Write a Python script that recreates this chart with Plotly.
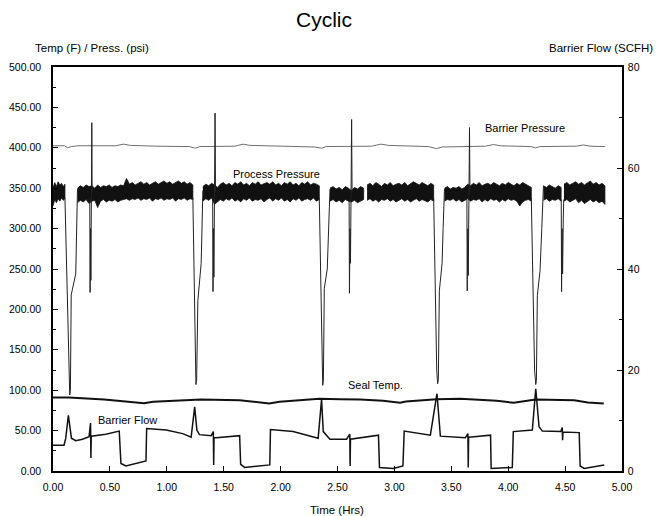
import numpy as np
import plotly.graph_objects as go

# ---------------- data ----------------
# Barrier Pressure (psi, left axis)
bp_t = [0.00, 0.10, 0.13, 0.16, 0.22, 0.55, 0.62, 0.68, 0.90, 1.20, 1.25, 1.29, 1.60, 1.67, 1.73,
        2.00, 2.30, 2.36, 2.40, 2.80, 2.88, 2.95, 3.30, 3.37, 3.42, 3.80, 3.87, 3.93, 4.20, 4.24,
        4.28, 4.60, 4.66, 4.72, 4.85]
bp_v = [402.5, 402.5, 400.0, 401.5, 402.5, 402.5, 404.5, 403.0, 402.0, 401.5, 399.5, 401.5, 402.0,
        404.5, 403.0, 402.0, 401.0, 399.5, 401.5, 402.0, 404.5, 403.0, 401.5, 399.0, 401.0, 402.0,
        404.0, 402.5, 401.5, 400.0, 401.5, 402.0, 403.5, 402.0, 401.5]

# Process Pressure: noisy plateau segments given as (start, end) with upper / lower envelopes
pp_A_span = (0.000, 0.105)
pp_A_up = [350, 357, 352, 358, 354, 356, 352, 355]
pp_A_lo = [328, 336, 332, 337, 334, 338, 335, 337]

pp_B_span = (0.215, 1.229)
pp_B_up = [350, 353, 351, 354, 352, 353, 350, 354, 351, 353, 352, 354, 351, 353, 352, 354, 353, 362,
           355, 357, 354, 356, 358, 355, 357, 354, 356, 358, 355, 357, 359, 356, 358, 355, 357, 359,
           356, 358, 355, 357, 354]
pp_B_lo = [332, 335, 333, 336, 331, 334, 335, 326, 334, 336, 333, 335, 334, 336, 333, 335, 336, 337,
           335, 337, 336, 338, 335, 337, 336, 338, 334, 337, 336, 338, 335, 337, 336, 338, 334, 337,
           336, 338, 335, 337, 336]

pp_C_span = (1.317, 2.340)
pp_C_up = [352, 355, 353, 356, 354, 351, 355, 357, 354, 356, 353, 357, 355, 358, 354, 356, 353, 357,
           355, 358, 354, 356, 357, 355, 358, 354, 356, 353, 357, 355, 358, 354, 356, 353, 357, 355,
           358, 354, 356, 355, 353]
pp_C_lo = [334, 337, 335, 338, 330, 333, 336, 334, 337, 335, 338, 334, 336, 333, 337, 335, 338, 334,
           336, 335, 337, 333, 336, 338, 334, 337, 335, 338, 334, 336, 333, 337, 335, 338, 334, 336,
           337, 335, 338, 334, 336]

pp_D1_span = (2.434, 2.730)
pp_D1_up = [350, 352, 349, 351, 348, 352, 350, 347, 351, 349, 352, 350]
pp_D1_lo = [334, 336, 333, 335, 332, 336, 334, 333, 335, 332, 334, 336]

pp_D2_span = (2.760, 3.345)
pp_D2_up = [354, 356, 353, 357, 355, 352, 356, 354, 357, 353, 355, 356, 354, 357, 353, 355, 358, 356,
            354, 357, 355, 353, 356, 354]
pp_D2_lo = [335, 337, 334, 336, 333, 336, 335, 337, 334, 336, 333, 335, 337, 334, 336, 333, 335, 337,
            334, 336, 335, 333, 336, 334]

pp_E_span = (3.440, 4.203)
pp_E_up = [350, 352, 349, 351, 350, 352, 349, 351, 355, 353, 356, 354, 357, 353, 355, 356, 354, 357,
           355, 353, 356, 354, 357, 355, 353, 356, 354, 357, 355, 353, 351]
pp_E_lo = [334, 336, 335, 337, 334, 336, 333, 335, 337, 334, 336, 335, 337, 333, 336, 334, 337, 335,
           336, 333, 336, 334, 337, 335, 336, 334, 328, 333, 335, 336, 334]

pp_F1_span = (4.310, 4.465)
pp_F1_up = [353, 351, 354, 352, 350, 353, 351]
pp_F1_lo = [335, 337, 334, 336, 335, 337, 334]

pp_F2_span = (4.490, 4.850)
pp_F2_up = [355, 357, 354, 356, 358, 355, 357, 354, 356, 359, 355, 357, 354, 356, 353]
pp_F2_lo = [334, 336, 333, 335, 337, 332, 335, 331, 334, 336, 333, 335, 332, 334, 330]

# Process Pressure transients (cycle dips)
dip1_t = [0.105, 0.118, 0.135, 0.147, 0.153, 0.160, 0.200, 0.207, 0.215]
dip1_v = [338, 260, 130, 94, 100, 218, 244, 300, 349]
dip2_t = [1.229, 1.240, 1.250, 1.256, 1.262, 1.273, 1.302, 1.308, 1.317]
dip2_v = [338, 220, 115, 107, 112, 211, 257, 300, 347]
dip3_t = [2.340, 2.352, 2.365, 2.370, 2.376, 2.384, 2.410, 2.420, 2.434]
dip3_v = [338, 230, 120, 106, 112, 226, 250, 300, 349]
dip4_t = [3.345, 3.357, 3.372, 3.380, 3.386, 3.395, 3.419, 3.428, 3.440]
dip4_v = [338, 230, 125, 108, 113, 223, 257, 300, 349]
dip5_t = [4.203, 4.215, 4.232, 4.242, 4.248, 4.256, 4.280, 4.295, 4.310]
dip5_v = [338, 240, 125, 107, 112, 217, 248, 300, 353]

# Process Pressure spikes
sp1_t = [0.323, 0.326, 0.330, 0.333, 0.338, 0.341, 0.344]
sp1_v = [338, 221, 300, 236, 340, 431, 345]
sp2_t = [1.403, 1.406, 1.410, 1.414, 1.420, 1.424, 1.428]
sp2_v = [338, 222, 300, 240, 340, 443, 345]
sp3_t = [2.602, 2.605, 2.610, 2.614, 2.619, 2.624, 2.628]
sp3_v = [336, 220, 300, 257, 340, 435, 345]
sp4_t = [3.637, 3.640, 3.645, 3.649, 3.655, 3.660, 3.664]
sp4_v = [338, 223, 300, 242, 340, 425, 345]
sp5_t = [4.466, 4.469, 4.474, 4.478, 4.484, 4.488]
sp5_v = [336, 222, 300, 244, 312, 336]

# Seal Temp. (F, left axis)
st_t = [0.00, 0.14, 0.45, 0.70, 0.80, 0.88, 1.23, 1.30, 1.64, 1.90, 1.99, 2.34, 2.52, 2.70, 2.90,
        3.05, 3.10, 3.37, 3.58, 3.90, 4.05, 4.17, 4.24, 4.58, 4.70, 4.84]
st_v = [91.0, 91.0, 88.5, 85.0, 84.0, 85.6, 88.5, 88.5, 87.7, 83.5, 85.6, 89.3, 88.9, 88.5, 86.8,
        84.4, 86.0, 88.9, 89.3, 86.8, 84.4, 86.8, 88.5, 87.7, 84.8, 83.5]

# Barrier Flow (SCFH, right axis)
bf_t = [0.000, 0.097, 0.112, 0.135, 0.162, 0.200, 0.259, 0.317, 0.330, 0.333, 0.336, 0.464, 0.582,
        0.597, 0.641, 0.817, 0.823, 0.994, 1.140, 1.214, 1.245, 1.264, 1.287, 1.390, 1.409, 1.412,
        1.415, 1.435, 1.640, 1.649, 1.684, 1.905, 1.911, 2.110, 2.330, 2.360, 2.375, 2.434, 2.580,
        2.608, 2.611, 2.614, 2.860, 2.869, 2.990, 3.075, 3.086, 3.316, 3.374, 3.404, 3.624, 3.646,
        3.649, 3.652, 3.700, 3.845, 3.850, 4.036, 4.045, 4.212, 4.242, 4.271, 4.300, 4.462, 4.475,
        4.478, 4.481, 4.624, 4.632, 4.668, 4.844]
bf_v = [5.1, 5.1, 6.5, 11.0, 6.5, 6.0, 6.3, 6.8, 9.5, 2.6, 6.9, 7.3, 7.9,
        1.5, 1.0, 2.0, 8.4, 8.1, 7.4, 6.7, 12.7, 8.1, 7.2, 7.0, 7.8, 1.2,
        6.6, 6.6, 7.0, 1.3, 0.7, 1.2, 8.2, 7.8, 6.5, 14.2, 7.8, 6.3, 6.3,
        7.3, 1.0, 6.3, 7.1, 0.7, 0.5, 1.0, 7.9, 7.1, 15.3, 6.9, 6.6, 7.4,
        0.7, 6.7, 6.8, 7.1, 0.5, 0.7, 7.8, 8.1, 16.3, 8.75, 7.9, 7.8, 8.6,
        6.1, 7.7, 7.6, 1.0, 0.5, 1.2]

# Series labels (text, time, value on left axis)
label_text = ["Barrier Pressure", "Process Pressure", "Seal Temp.", "Barrier Flow"]
label_t = [4.15, 1.968, 2.83, 0.658]
label_v = [424, 368, 106, 63]

# ---------------- figure ----------------
fig = go.Figure()

# Barrier pressure
fig.add_trace(go.Scatter(x=bp_t, y=bp_v, mode="lines", line=dict(color="#6e6e6e", width=1),
                         name="Barrier Pressure", hoverinfo="skip"))

# Process pressure noisy plateaus
segments = [
    (pp_A_span, pp_A_up, pp_A_lo), (pp_B_span, pp_B_up, pp_B_lo), (pp_C_span, pp_C_up, pp_C_lo),
    (pp_D1_span, pp_D1_up, pp_D1_lo), (pp_D2_span, pp_D2_up, pp_D2_lo), (pp_E_span, pp_E_up, pp_E_lo),
    (pp_F1_span, pp_F1_up, pp_F1_lo), (pp_F2_span, pp_F2_up, pp_F2_lo),
]
for span, up, lo in segments:
    t = np.linspace(span[0], span[1], len(up))
    xs = list(t) + list(t[::-1])
    ys = list(up) + list(lo[::-1])
    fig.add_trace(go.Scatter(x=xs, y=ys, mode="lines", fill="toself", fillcolor="#111111",
                             line=dict(color="#111111", width=0.8), hoverinfo="skip",
                             showlegend=False))

# Process pressure transients
tx, vy = [], []
for t_, v_ in [(dip1_t, dip1_v), (dip2_t, dip2_v), (dip3_t, dip3_v), (dip4_t, dip4_v),
               (dip5_t, dip5_v), (sp1_t, sp1_v), (sp2_t, sp2_v), (sp3_t, sp3_v),
               (sp4_t, sp4_v), (sp5_t, sp5_v)]:
    tx += list(t_) + [None]
    vy += list(v_) + [None]
fig.add_trace(go.Scatter(x=tx, y=vy, mode="lines", line=dict(color="#222222", width=1),
                         connectgaps=False, hoverinfo="skip", showlegend=False))

# Seal temp
fig.add_trace(go.Scatter(x=st_t, y=st_v, mode="lines", line=dict(color="#111111", width=2),
                         hoverinfo="skip", showlegend=False))

# Barrier flow on right axis
fig.add_trace(go.Scatter(x=bf_t, y=bf_v, mode="lines", yaxis="y2",
                         line=dict(color="#111111", width=1.5), hoverinfo="skip",
                         showlegend=False))

font_family = "Liberation Sans, Arial, sans-serif"
annotations = []
for txt, t_, v_ in zip(label_text, label_t, label_v):
    annotations.append(dict(x=t_, y=v_, xref="x", yref="y", text=txt, showarrow=False,
                            font=dict(size=11, color="black", family=font_family)))

annotations += [
    dict(text="Cyclic", x=0.476, y=1.118, xref="paper", yref="paper", showarrow=False,
         xanchor="center", yanchor="middle", font=dict(size=21, color="black", family=font_family)),
    dict(text="Temp (F) / Press. (psi)", x=-0.036, y=1.047, xref="paper", yref="paper",
         showarrow=False, xanchor="left", yanchor="middle",
         font=dict(size=11.5, color="black", family=font_family)),
    dict(text="Barrier Flow (SCFH)", x=1.0585, y=1.047, xref="paper", yref="paper",
         showarrow=False, xanchor="right", yanchor="middle",
         font=dict(size=11.5, color="black", family=font_family)),
    dict(text="Time (Hrs)", x=0.499, y=-0.096, xref="paper", yref="paper", showarrow=False,
         xanchor="center", yanchor="middle", font=dict(size=11.5, color="black", family=font_family)),
]

# The page body has an 8px margin, so the figure is sized 656x508 to fill the 664x516 window.
tickfont = dict(size=10.5, color="black", family=font_family)
fig.update_layout(
    width=656, height=508,
    margin=dict(l=45, r=42, t=59, b=45, autoexpand=False),
    paper_bgcolor="white", plot_bgcolor="white",
    showlegend=False,
    annotations=annotations,
    xaxis=dict(range=[0, 5], dtick=0.5, tick0=0, tickformat=".2f", ticks="inside", ticklen=5,
               tickcolor="black", showline=True, linecolor="black", linewidth=1.5, mirror=True,
               showgrid=False, zeroline=False, tickfont=tickfont, ticklabelstandoff=6,
               automargin=False),
    yaxis=dict(range=[0, 500], dtick=50, tick0=0, tickformat=".2f", ticks="inside", ticklen=5,
               tickcolor="black", showline=True, linecolor="black", linewidth=1.5, mirror=True,
               showgrid=False, zeroline=False, tickfont=tickfont, ticklabelstandoff=8,
               automargin=False,
               minor=dict(dtick=25, ticks="inside", ticklen=3, tickcolor="black", showgrid=False)),
    yaxis2=dict(range=[0, 80], dtick=20, tick0=0, overlaying="y", side="right", ticks="inside",
                ticklen=5, tickcolor="black", showline=True, linecolor="black", linewidth=1.5,
                showgrid=False, zeroline=False, tickfont=tickfont, ticklabelstandoff=2,
                automargin=False,
                minor=dict(dtick=10, ticks="inside", ticklen=3, tickcolor="black", showgrid=False)),
)

fig.write_html("out.html")
